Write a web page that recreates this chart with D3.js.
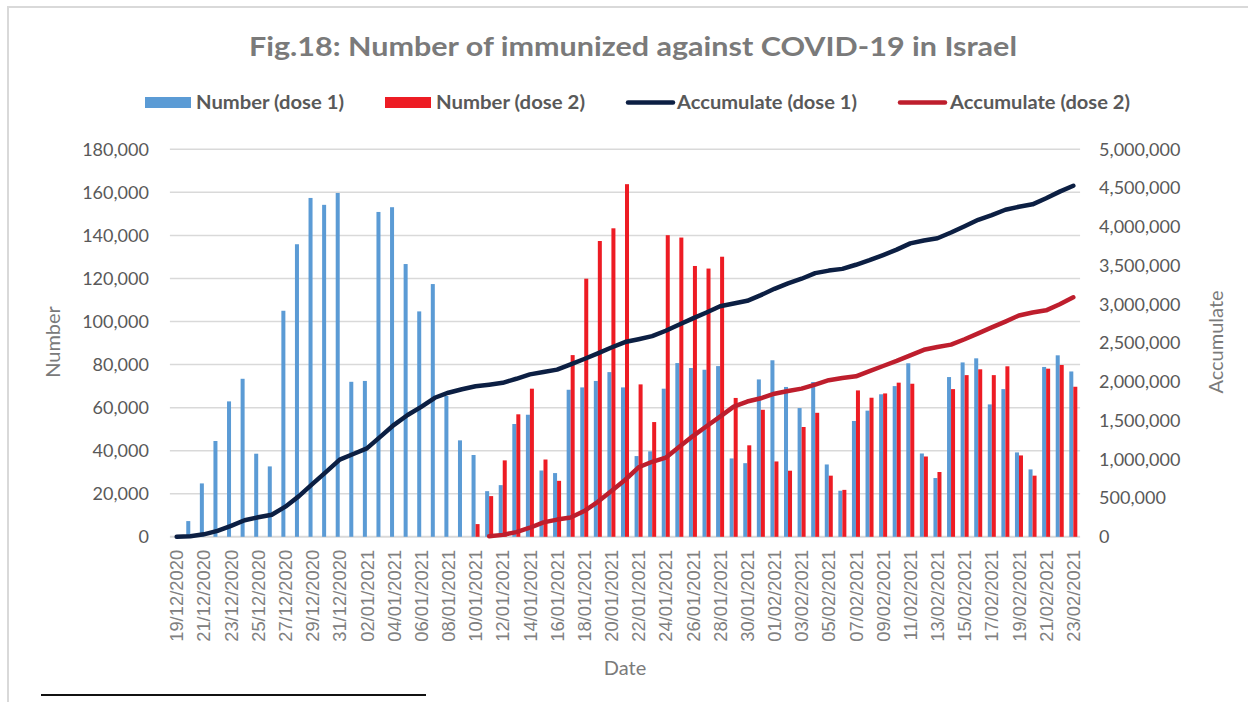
<!DOCTYPE html>
<html>
<head>
<meta charset="utf-8">
<script src="https://cdn.jsdelivr.net/npm/d3@7"></script>
<style>
  html, body { margin: 0; padding: 0; background: #ffffff; }
  svg { display: block; }
</style>
</head>
<body>
<svg id="chart" width="1248" height="702"></svg>
<script>
const dates = ["19/12/2020","20/12/2020","21/12/2020","22/12/2020","23/12/2020","24/12/2020","25/12/2020","26/12/2020","27/12/2020","28/12/2020","29/12/2020","30/12/2020","31/12/2020",
"01/01/2021","02/01/2021","03/01/2021","04/01/2021","05/01/2021","06/01/2021","07/01/2021","08/01/2021","09/01/2021","10/01/2021","11/01/2021","12/01/2021","13/01/2021","14/01/2021","15/01/2021","16/01/2021","17/01/2021","18/01/2021","19/01/2021","20/01/2021","21/01/2021","22/01/2021","23/01/2021","24/01/2021","25/01/2021","26/01/2021","27/01/2021","28/01/2021","29/01/2021","30/01/2021","31/01/2021",
"01/02/2021","02/02/2021","03/02/2021","04/02/2021","05/02/2021","06/02/2021","07/02/2021","08/02/2021","09/02/2021","10/02/2021","11/02/2021","12/02/2021","13/02/2021","14/02/2021","15/02/2021","16/02/2021","17/02/2021","18/02/2021","19/02/2021","20/02/2021","21/02/2021","22/02/2021","23/02/2021"];

const dose1 = [0,7300,24800,44500,62900,73400,38600,32700,105000,135900,157400,154200,159700,
72000,72400,150900,153100,126700,104700,117400,65400,44800,38000,21200,24000,52400,56700,30800,29600,68300,69400,72400,76500,69400,37500,39700,68800,80700,78400,77600,79300,36400,34200,73100,
82000,69600,59800,71900,33600,21400,53800,58600,66200,70000,80600,38700,27300,74200,81000,82900,61500,68600,39200,31300,78900,84300,76800];

const dose2 = [null,null,null,null,null,null,null,null,null,null,null,null,null,
null,null,null,null,null,null,null,null,null,5900,18900,35500,56900,68800,35900,26000,84400,119900,137400,143300,163800,70800,53300,140100,139000,125800,124600,130100,64500,42500,59000,
35000,30700,51000,57600,28400,21800,68000,64600,66600,71600,71100,37300,30100,68600,75100,77800,75100,79200,37800,28400,78100,79800,69700];

const accum1 = [0,7000,32000,77000,140000,213000,252000,284000,389000,525000,683000,837000,996000,
1068000,1141000,1292000,1445000,1572000,1676000,1794000,1859000,1904000,1942000,1963000,1987000,2039000,2096000,2127000,2157000,2225000,2294000,2367000,2443000,2513000,2550000,2590000,2659000,2739000,2818000,2895000,2975000,3011000,3045000,3118000,
3200000,3270000,3330000,3402000,3435000,3457000,3510000,3569000,3635000,3705000,3786000,3824000,3852000,3926000,4007000,4090000,4151000,4220000,4259000,4290000,4369000,4454000,4530000];

const accum2 = [null,null,null,null,null,null,null,null,null,null,null,null,null,
null,null,null,null,null,null,null,null,null,null,6000,25000,60000,117000,186000,222000,248000,332000,452000,590000,733000,897000,968000,1021000,1161000,1300000,1426000,1550000,1680000,1745000,1787000,
1846000,1881000,1912000,1963000,2021000,2049000,2071000,2139000,2204000,2270000,2342000,2413000,2450000,2480000,2549000,2624000,2702000,2777000,2856000,2894000,2922000,3000000,3090000];

const leftTicks = [0,20000,40000,60000,80000,100000,120000,140000,160000,180000];
const rightTicks = [0,500000,1000000,1500000,2000000,2500000,3000000,3500000,4000000,4500000,5000000];
const dateTickLabels = dates.filter((d, i) => i % 2 === 0);

const titleText = "Fig.18: Number of immunized against COVID-19 in Israel";
const seriesNames = ["Number (dose 1)", "Number (dose 2)", "Accumulate (dose 1)", "Accumulate (dose 2)"];
const colors = { d1: "#5B9BD5", d2: "#ED1C24", a1: "#0C1F43", a2: "#BE1E2D" };

const svg = d3.select("#chart");

// frame
svg.append("line").attr("x1", 8).attr("x2", 8).attr("y1", 6).attr("y2", 702)
  .attr("stroke", "#d9d9d9").attr("stroke-width", 2);
svg.append("line").attr("x1", 7).attr("x2", 1248).attr("y1", 7).attr("y2", 7)
  .attr("stroke", "#d9d9d9").attr("stroke-width", 2);
svg.append("line").attr("x1", 41).attr("x2", 426).attr("y1", 695).attr("y2", 695)
  .attr("stroke", "#111111").attr("stroke-width", 2);

const plot = { left: 169.9, right: 1080.1, top: 149.3, bottom: 536.8 };

const x = d3.scaleBand().domain(dates).range([plot.left, plot.right]).paddingInner(0.41).paddingOuter(0.205);
const xSub = d3.scaleBand().domain(["d1", "d2"]).range([0, x.bandwidth()]);
const yL = d3.scaleLinear().domain([0, 180000]).range([plot.bottom, plot.top]);
const yR = d3.scaleLinear().domain([0, 5000000]).range([plot.bottom, plot.top]);

// gridlines
svg.append("g").selectAll("line").data(leftTicks).join("line")
  .attr("x1", plot.left).attr("x2", plot.right)
  .attr("y1", d => yL(d)).attr("y2", d => yL(d))
  .attr("stroke", "#d9d9d9").attr("stroke-width", d => d === 0 ? 2 : 1.5);

// bars
const barG = svg.append("g");
barG.selectAll("rect.d1").data(dates.map((d, i) => ({ d, v: dose1[i] })).filter(o => o.v))
  .join("rect").attr("class", "d1")
  .attr("x", o => x(o.d) + xSub("d1")).attr("width", xSub.bandwidth())
  .attr("y", o => yL(o.v)).attr("height", o => yL(0) - yL(o.v))
  .attr("fill", colors.d1);
barG.selectAll("rect.d2").data(dates.map((d, i) => ({ d, v: dose2[i] })).filter(o => o.v != null))
  .join("rect").attr("class", "d2")
  .attr("x", o => x(o.d) + xSub("d2")).attr("width", xSub.bandwidth())
  .attr("y", o => yL(o.v)).attr("height", o => yL(0) - yL(o.v))
  .attr("fill", colors.d2);

// lines
const cx = d => x(d) + x.bandwidth() / 2;
const lineGen = d3.line().defined(o => o.v != null).x(o => cx(o.d)).y(o => yR(o.v));
svg.append("path").datum(dates.map((d, i) => ({ d, v: accum1[i] })))
  .attr("d", lineGen).attr("fill", "none").attr("stroke", colors.a1)
  .attr("stroke-width", 4.5).attr("stroke-linecap", "round").attr("stroke-linejoin", "round");
svg.append("path").datum(dates.map((d, i) => ({ d, v: accum2[i] })))
  .attr("d", lineGen).attr("fill", "none").attr("stroke", colors.a2)
  .attr("stroke-width", 4.5).attr("stroke-linecap", "round").attr("stroke-linejoin", "round");

// axes
const fmt = d3.format(",");
const leftAxis = svg.append("g").attr("transform", `translate(${plot.left},0)`)
  .call(d3.axisLeft(yL).tickValues(leftTicks).tickFormat(fmt).tickSize(0).tickPadding(21));
leftAxis.select(".domain").remove();
leftAxis.selectAll("text").attr("font-family", "Lato, 'Open Sans', sans-serif").attr("font-size", 18).attr("fill", "#595959");

const rightAxis = svg.append("g").attr("transform", `translate(${plot.right},0)`)
  .call(d3.axisRight(yR).tickValues(rightTicks).tickFormat(fmt).tickSize(0).tickPadding(19));
rightAxis.select(".domain").remove();
rightAxis.selectAll("text").attr("font-family", "Lato, 'Open Sans', sans-serif").attr("font-size", 18).attr("fill", "#595959");

const bottomAxis = svg.append("g").attr("transform", `translate(0,${plot.bottom})`)
  .call(d3.axisBottom(x).tickValues(dateTickLabels).tickSize(0));
bottomAxis.select(".domain").remove();
bottomAxis.selectAll("text")
  .attr("transform", "rotate(-90)")
  .attr("x", -13).attr("y", 0).attr("dy", "0.36em")
  .attr("text-anchor", "end")
  .attr("font-family", "'Liberation Sans', Arial, sans-serif").attr("font-size", 18.4).attr("fill", "#808080");

// axis titles
svg.append("text").attr("x", 625).attr("y", 675).attr("text-anchor", "middle")
  .attr("font-family", "Lato, sans-serif").attr("font-size", 20).attr("fill", "#7a7a7a").text("Date");
svg.append("text").attr("transform", "translate(60,342) rotate(-90)").attr("text-anchor", "middle")
  .attr("font-family", "Lato, sans-serif").attr("font-size", 20).attr("fill", "#7a7a7a").text("Number");
svg.append("text").attr("transform", "translate(1223,342) rotate(-90)").attr("text-anchor", "middle")
  .attr("font-family", "Lato, sans-serif").attr("font-size", 20).attr("fill", "#7a7a7a").text("Accumulate");

// title
svg.append("text").attr("x", 249).attr("y", 56)
  .attr("font-family", "Lato, sans-serif").attr("font-weight", "bold").attr("font-size", 27)
  .attr("fill", "#7a7a7a").attr("textLength", 768).attr("lengthAdjust", "spacingAndGlyphs")
  .text(titleText);

// legend
const legendItems = [
  { name: seriesNames[0], type: "rect", color: colors.d1, sx: 145, tx: 196, tw: 148 },
  { name: seriesNames[1], type: "rect", color: colors.d2, sx: 385, tx: 436, tw: 149 },
  { name: seriesNames[2], type: "line", color: colors.a1, sx: 626, tx: 677, tw: 180 },
  { name: seriesNames[3], type: "line", color: colors.a2, sx: 898, tx: 950, tw: 180 }
];
const lg = svg.append("g");
legendItems.forEach(it => {
  if (it.type === "rect") {
    lg.append("rect").attr("x", it.sx).attr("y", 97).attr("width", 46).attr("height", 11).attr("fill", it.color);
  } else {
    lg.append("line").attr("x1", it.sx + 2).attr("x2", it.sx + 47).attr("y1", 102.5).attr("y2", 102.5)
      .attr("stroke", it.color).attr("stroke-width", 4.5).attr("stroke-linecap", "round");
  }
  lg.append("text").attr("x", it.tx).attr("y", 109)
    .attr("font-family", "Lato, sans-serif").attr("font-weight", "bold").attr("font-size", 18)
    .attr("fill", "#595959").attr("textLength", it.tw).attr("lengthAdjust", "spacingAndGlyphs")
    .text(it.name);
});
</script>
</body>
</html>
